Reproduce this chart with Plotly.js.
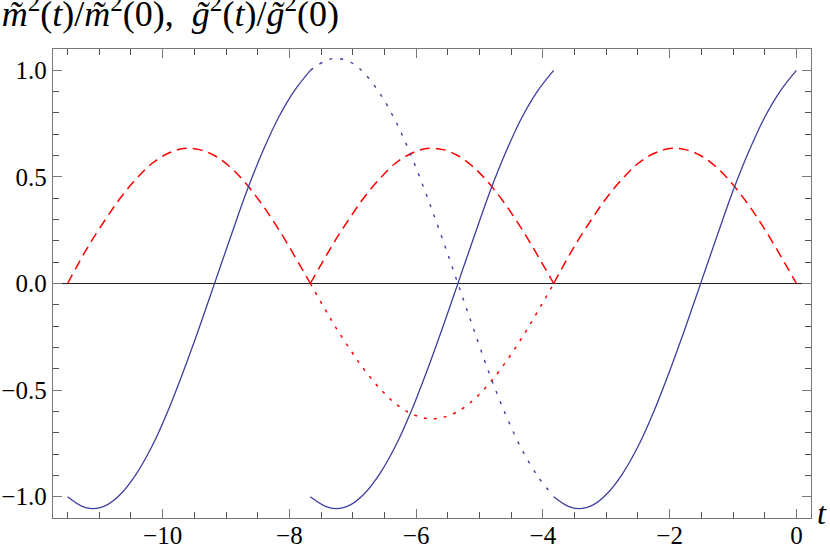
<!DOCTYPE html>
<html>
<head>
<meta charset="utf-8">
<script src="https://cdn.plot.ly/plotly-3.0.1.min.js"></script>
<style>
  body { margin: 0; background: #fff; }
  #plot { width: 830px; height: 546px; }
</style>
</head>
<body>
<div id="plot"></div>
<script>
// t values for the three periods
const tSeg1 = [-11.5, -11.27, -11.1, -10.87, -10.67, -10.42, -10.17, -9.92, -9.67, -9.42, -9.17, -8.92, -8.67, -8.42, -8.17, -7.92, -7.67];
const tSeg2 = [-7.67, -7.43, -7.26, -7.03, -6.83, -6.58, -6.33, -6.08, -5.83, -5.58, -5.33, -5.08, -4.83, -4.58, -4.33, -4.08, -3.83];
const tSeg3 = [-3.83, -3.6, -3.43, -3.2, -3.0, -2.75, -2.5, -2.25, -2.0, -1.75, -1.5, -1.25, -1.0, -0.75, -0.5, -0.25, 0];

// m^2(t)/m^2(0) (blue): solid branch, dotted continuation
const massSolid = [-1.0, -1.045, -1.056, -1.037, -0.99, -0.895, -0.765, -0.6, -0.41, -0.205, 0.01, 0.225, 0.435, 0.62, 0.78, 0.905, 1.0];
const massDotted = [1.0, 1.045, 1.056, 1.037, 0.99, 0.895, 0.765, 0.6, 0.41, 0.205, -0.01, -0.225, -0.435, -0.62, -0.78, -0.905, -1.0];

// g^2(t)/g^2(0) (red): dashed humps, dotted dip
const coupDashed = [0, 0.125, 0.21, 0.315, 0.4, 0.49, 0.563, 0.61, 0.633, 0.628, 0.598, 0.542, 0.463, 0.366, 0.254, 0.13, 0];
const coupDotted = [0, -0.125, -0.21, -0.315, -0.4, -0.49, -0.563, -0.61, -0.633, -0.628, -0.598, -0.542, -0.463, -0.366, -0.254, -0.13, 0];

const xTicks = [-10, -8, -6, -4, -2, 0];
const yTicks = [-1.0, -0.5, 0.0, 0.5, 1.0];

const blue = 'rgb(62,62,158)';
const red = 'rgb(255,0,0)';

function line(x, y, color, dash, width) {
    return {
        x: x, y: y, mode: 'lines', type: 'scatter',
        line: { color: color, dash: dash, width: width, shape: 'spline', smoothing: 1 },
        hoverinfo: 'skip', showlegend: false
    };
}

const data = [
    line(tSeg1, coupDashed, red, '10px,6px', 1.5),
    line(tSeg2, coupDashed, red, '10px,6px', 1.5),
    line(tSeg3, coupDashed, red, '10px,6px', 1.5),
    line(tSeg2, coupDotted, red, '3px,7px', 1.5),
    line(tSeg2, massDotted, blue, '3px,8px', 1.4),
    line(tSeg1, massSolid, blue, 'solid', 1.3),
    line(tSeg2, massSolid, blue, 'solid', 1.3),
    line(tSeg3, massSolid, blue, 'solid', 1.3)
];

const serif = 'Liberation Serif';

const layout = {
    width: 830, height: 546,
    margin: { l: 53, r: 19, t: 49, b: 28 },
    paper_bgcolor: '#fff', plot_bgcolor: '#fff',
    font: { family: serif, size: 24, color: '#000' },
    title: {
        text: '<i>m̃</i><sup>2</sup>(<i>t</i>)/<i>m̃</i><sup>2</sup>(0),  <i>g̃</i><sup>2</sup>(<i>t</i>)/<i>g̃</i><sup>2</sup>(0)',
        x: 0.002, xref: 'container', xanchor: 'left',
        y: 0.998, yref: 'container', yanchor: 'top',
        font: { family: serif, size: 36, color: '#000' }
    },
    xaxis: {
        range: [-11.73, 0.23],
        tickvals: xTicks,
        ticktext: xTicks.map(v => v < 0 ? '\u2212' + Math.abs(v) : String(v)),
        ticks: 'inside', ticklen: 9, tickcolor: '#777', tickwidth: 1,
        minor: { dtick: 0.5, tick0: 0, ticks: 'inside', ticklen: 6, tickcolor: '#555', tickwidth: 1 },
        showline: true, linecolor: '#777', linewidth: 1.3, mirror: 'ticks',
        showgrid: false, zeroline: false,
        ticklabelstandoff: -5,
        tickfont: { family: serif, size: 25, color: '#000' }
    },
    yaxis: {
        range: [-1.1, 1.1],
        tickvals: yTicks,
        ticktext: yTicks.map(v => v < 0 ? '\u2212' + Math.abs(v).toFixed(1) : v.toFixed(1)),
        ticks: 'inside', ticklen: 9, tickcolor: '#777', tickwidth: 1,
        minor: { dtick: 0.1, tick0: 0, ticks: 'inside', ticklen: 6, tickcolor: '#555', tickwidth: 1 },
        showline: true, linecolor: '#777', linewidth: 1.3, mirror: 'ticks',
        showgrid: false,
        zeroline: true, zerolinecolor: '#222', zerolinewidth: 1,
        tickfont: { family: serif, size: 25, color: '#000' }
    },
    annotations: [{
        text: '<i>t</i>', xref: 'paper', yref: 'paper',
        x: 1.005, y: 0.01, xanchor: 'left', yanchor: 'middle',
        showarrow: false, font: { family: serif, size: 32, color: '#000' }
    }]
};

Plotly.newPlot('plot', data, layout, { displayModeBar: false, staticPlot: true });
</script>
</body>
</html>
